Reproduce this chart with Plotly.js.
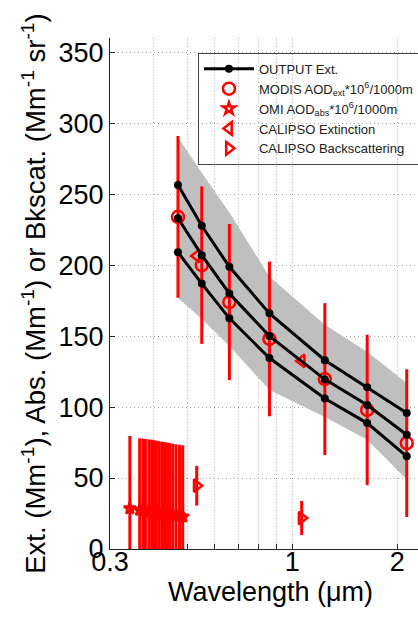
<!DOCTYPE html>
<html>
<head>
<meta charset="utf-8">
<script src="https://cdn.plot.ly/plotly-3.0.1.min.js"></script>
<style>
html, body { margin: 0; padding: 0; overflow: hidden; background: #fff; }
#chart { width: 460px; height: 617px; }
</style>
</head>
<body>
<div id="chart"></div>
<script>
// ---- data ----
const wavelength   = [0.47, 0.55, 0.66, 0.86, 1.24, 1.64, 2.13];
const outputUpper  = [256.5, 227.7, 198.8, 166, 133, 114, 95.8];
const outputMid    = [233, 207, 180, 150, 119.5, 101.4, 80.5];
const outputLower  = [209, 187, 162.5, 134.5, 106, 88.7, 65.3];
const bandUpper    = [290, 265, 237, 192, 158, 139, 117];
const bandLower    = [177, 162, 143, 112, 93, 77, 49];
const modisExt     = [234, 200, 174, 148, 119.7, 98, 74.6];
const modisErr     = [57, 55.5, 55, 54.5, 53.5, 53, 52];

const omiWavelength = [0.342, 0.365, 0.373, 0.379, 0.388, 0.395, 0.401, 0.407, 0.414,
                       0.422, 0.430, 0.438, 0.445, 0.454, 0.464, 0.475, 0.485];
const omiAbs        = [28.6, 27.5, 27.2, 26.9, 26.6, 26.3, 26.0, 25.7, 25.4,
                       25.1, 24.8, 24.5, 24.2, 23.9, 23.6, 23.2, 22.8];
const omiErr        = [51, 50.5, 50.6, 50.6, 50.6, 50.7, 50.6, 50.6, 50.6,
                       50.5, 50.5, 50.5, 50.4, 50.3, 50.2, 50.2, 50.2];

const calipsoWavelength = [0.532, 1.064];
const calipsoExt        = [206.5, 132.5];
const calipsoBks        = [44.6, 21.8];
const calipsoBksErr     = [14, 12];

const xTickVals = [0.3, 0.4, 0.5, 0.6, 0.7, 0.8, 0.9, 1, 2];
const xTickText = ['0.3', '', '', '', '', '', '', '1', '2'];

// ---- traces ----
const RED = '#ff0000';
const FONT = 'Liberation Sans, Arial, sans-serif';

const band = {
  x: wavelength.concat(wavelength.slice().reverse()),
  y: bandUpper.concat(bandLower.slice().reverse()),
  type: 'scatter', mode: 'lines', fill: 'toself',
  fillcolor: '#bfbfbf', line: {width: 0, color: '#bfbfbf'},
  showlegend: false, hoverinfo: 'skip'
};

const modis = {
  x: wavelength, y: modisExt, type: 'scatter', mode: 'markers',
  name: 'MODIS AOD<sub>ext</sub>*10<sup>6</sup>/1000m', legendrank: 2,
  marker: {symbol: 'circle-open', size: 12, color: RED, line: {width: 2.5, color: RED}},
  error_y: {type: 'data', array: modisErr, visible: true, color: RED, thickness: 3, width: 0}
};

const omi = {
  x: omiWavelength, y: omiAbs, type: 'scatter', mode: 'markers',
  name: 'OMI AOD<sub>abs</sub>*10<sup>6</sup>/1000m', legendrank: 3,
  marker: {symbol: 'star-open', size: 9, color: RED, line: {width: 2.5, color: RED}},
  error_y: {type: 'data', array: omiErr, visible: true, color: RED, thickness: 3, width: 0}
};

const calExt = {
  x: calipsoWavelength, y: calipsoExt, type: 'scatter', mode: 'markers',
  name: 'CALIPSO Extinction', legendrank: 4,
  marker: {symbol: 'triangle-left-open', size: 11, color: RED, line: {width: 2.5, color: RED}}
};

const calBks = {
  x: calipsoWavelength, y: calipsoBks, type: 'scatter', mode: 'markers',
  name: 'CALIPSO Backscattering', legendrank: 5,
  marker: {symbol: 'triangle-right-open', size: 11, color: RED, line: {width: 2.5, color: RED}},
  error_y: {type: 'data', array: calipsoBksErr, visible: true, color: RED, thickness: 3, width: 0}
};

function outLine(y, show) {
  return {
    x: wavelength, y: y, type: 'scatter', mode: 'lines+markers',
    name: 'OUTPUT Ext.', legendrank: 1, showlegend: show,
    line: {color: '#000', width: 3},
    marker: {symbol: 'circle', size: 8, color: '#000'}
  };
}

const data = [band, modis, omi, calExt, calBks,
              outLine(outputUpper, false), outLine(outputMid, true), outLine(outputLower, false)];

const GRID = {showgrid: true, gridcolor: '#a8a8a8', griddash: '1px,3px', gridwidth: 1};

const layout = {
  width: 460, height: 617,
  margin: {l: 110, r: 29, t: 38, b: 68},
  paper_bgcolor: '#fff', plot_bgcolor: '#fff',
  font: {family: FONT, size: 27, color: '#000'},
  showlegend: true,
  legend: {
    x: 0.274, y: 0.971, xanchor: 'left', yanchor: 'top',
    bgcolor: 'rgba(0,0,0,0)', bordercolor: '#444', borderwidth: 1,
    font: {family: FONT, size: 13, color: '#222'},
    itemwidth: 50, tracegroupgap: 0
  },
  xaxis: Object.assign({
    type: 'log', range: [Math.log10(0.3), Math.log10(2.5)],
    tickmode: 'array', tickvals: xTickVals, ticktext: xTickText,
    ticks: 'inside', ticklen: 5, tickcolor: '#222', ticklabelstandoff: -11,
    showline: true, linecolor: '#222', linewidth: 1,
    zeroline: false,
    tickfont: {family: FONT, size: 27, color: '#000'},
    title: {text: 'Wavelength (\u03bcm)', font: {family: FONT, size: 27, color: '#000'}, standoff: 2}
  }, GRID),
  yaxis: Object.assign({
    range: [0, 360], tickmode: 'linear', tick0: 0, dtick: 50,
    ticks: 'inside', ticklen: 5, tickcolor: '#222',
    showline: true, linecolor: '#222', linewidth: 1,
    zeroline: false,
    tickfont: {family: FONT, size: 27, color: '#000'},
    title: {text: 'Ext. (Mm<sup>-1</sup>), Abs. (Mm<sup>-1</sup>) or Bkscat. (Mm<sup>-1</sup> sr<sup>-1</sup>)',
            font: {family: FONT, size: 27.5, color: '#000'}, standoff: 4}
  }, GRID)
};

Plotly.newPlot('chart', data, layout, {displayModeBar: false, staticPlot: true});
</script>
</body>
</html>
